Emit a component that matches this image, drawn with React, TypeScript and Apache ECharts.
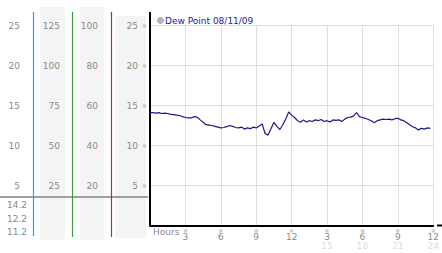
import React, { useEffect, useRef } from "react";
import * as echarts from "echarts";

const SERIES_NAME = "Dew Point 08/11/09";
const X_AXIS_NAME = "Hours";
const FONT = "DejaVu Sans";

// dew point readings, one every 15 minutes from 0h
const SAMPLE_STEP_HOURS = 0.25;
const dewPoint = [
  14.1, 14.1, 14.05, 14.1, 14.0, 14.05, 14.0, 13.9, 13.85, 13.8, 13.75, 13.6,
  13.5, 13.45, 13.45, 13.6, 13.55, 13.2, 12.9, 12.6, 12.55, 12.5, 12.4, 12.3,
  12.2, 12.25, 12.35, 12.5, 12.4, 12.25, 12.2, 12.3, 12.05, 12.2, 12.1, 12.3,
  12.2, 12.45, 12.7, 11.5, 11.3, 12.1, 12.9, 12.4, 12.0, 12.6, 13.3, 14.2,
  13.8, 13.5, 13.1, 12.9, 13.2, 12.95, 13.1, 13.0, 13.2, 13.1, 13.25, 13.0,
  13.1, 12.95, 13.2, 13.15, 13.2, 13.0, 13.3, 13.5, 13.55, 13.7, 14.1, 13.6,
  13.5, 13.4, 13.25, 13.1, 12.85, 13.1, 13.2, 13.3, 13.25, 13.3, 13.2, 13.35,
  13.4, 13.2, 13.1, 12.85, 12.6, 12.35, 12.2, 11.95, 12.15, 12.05, 12.2, 12.15,
];

// left side scales
const scaleCol1 = { max: 25, interval: 5 }; // 25 20 15 10 5
const scaleCol2 = { max: 125, interval: 25 }; // 125 100 75 50 25
const scaleCol3 = { max: 100, interval: 20 }; // 100 80 60 40 20
const mainScale = { max: 25, interval: 5 };

const xAxisScale = { min: 0, max: 24, interval: 3 };

const statValues = ["14.2", "12.2", "11.2"];

export default function App() {
  const ref = useRef<HTMLDivElement>(null);

  useEffect(() => {
    if (!ref.current) return;
    const chart = echarts.init(ref.current, undefined, { renderer: "svg" });

    const seriesData = dewPoint.map((v, i) => [i * SAMPLE_STEP_HOURS, v]);

    const sideAxis = (scale: { max: number; interval: number }, margin: number) => ({
      type: "value",
      position: "left",
      offset: 0,
      min: 0,
      max: scale.max,
      interval: scale.interval,
      axisLine: { show: false },
      axisTick: { show: false },
      splitLine: { show: false },
      axisLabel: {
        showMinLabel: false,
        margin,
        color: "#8a8a8a",
        fontFamily: FONT,
        fontSize: 9,
      },
    });

    const gray = "#f4f4f4";

    chart.setOption({
      animation: false,
      grid: { left: 150, top: 25.5, width: 288.5, height: 200, containLabel: false },
      xAxis: {
        type: "value",
        min: xAxisScale.min,
        max: xAxisScale.max,
        interval: xAxisScale.interval,
        axisLine: { show: true, lineStyle: { color: "#000", width: 2 } },
        axisTick: { show: false },
        splitLine: { show: true, lineStyle: { color: "#dddddd", width: 1 } },
        axisLabel: {
          showMinLabel: false,
          margin: 2,
          formatter: (v: number) =>
            v <= 12
              ? `{m|※}\n{n|${v}}`
              : `{m|※}\n{n|${v - 12}}\n{g|${v}}`,
          rich: {
            m: { fontSize: 6, lineHeight: 5, color: "#aaaaaa", fontFamily: FONT, align: "center" },
            n: { fontSize: 9, lineHeight: 9, color: "#8a8a8a", fontFamily: FONT, align: "center" },
            g: { fontSize: 9, lineHeight: 8, color: "#dcdcdc", fontFamily: FONT, align: "center" },
          },
        },
      },
      yAxis: [
        {
          type: "value",
          position: "left",
          offset: 0,
          min: 0,
          max: mainScale.max,
          interval: mainScale.interval,
          axisLine: { show: true, lineStyle: { color: "#000", width: 2 } },
          axisTick: { show: false },
          splitLine: { show: true, lineStyle: { color: "#dddddd", width: 1 } },
          axisLabel: {
            showMinLabel: false,
            margin: 3,
            formatter: (v: number) => `{a|${v}}{b|※}`,
            rich: {
              a: { fontSize: 9, color: "#8a8a8a", fontFamily: FONT },
              b: { fontSize: 6, color: "#aaaaaa", fontFamily: FONT, padding: [0, 0, 0, 4] },
            },
          },
        },
        sideAxis(scaleCol3, 52),
        sideAxis(scaleCol2, 90),
        sideAxis(scaleCol1, 130),
      ],
      series: [
        {
          name: SERIES_NAME,
          type: "line",
          xAxisIndex: 0,
          yAxisIndex: 0,
          data: seriesData,
          showSymbol: false,
          symbol: "none",
          lineStyle: { color: "#1a1a90", width: 1.2 },
          z: 5,
        },
      ],
      graphic: [
        { type: "rect", z: -10, shape: { x: 40, y: 7, width: 25, height: 233 }, style: { fill: gray } },
        { type: "rect", z: -10, shape: { x: 80, y: 7, width: 24, height: 233 }, style: { fill: gray } },
        { type: "rect", z: -10, shape: { x: 115, y: 16, width: 31, height: 222 }, style: { fill: gray } },
        { type: "line", z: -5, shape: { x1: 0, y1: 197, x2: 148, y2: 197 }, style: { stroke: "#a0a0a0", lineWidth: 2 } },
        { type: "line", z: 1, shape: { x1: 33.5, y1: 12, x2: 33.5, y2: 236 }, style: { stroke: "#28a4d4", lineWidth: 1.2 } },
        { type: "line", z: 1, shape: { x1: 72.5, y1: 12, x2: 72.5, y2: 237 }, style: { stroke: "#3c9c3c", lineWidth: 1.2 } },
        { type: "line", z: 1, shape: { x1: 111.5, y1: 12, x2: 111.5, y2: 237 }, style: { stroke: "#c02828", lineWidth: 1.2 } },
        { type: "line", z: 10, shape: { x1: 150, y1: 12, x2: 150, y2: 27 }, style: { stroke: "#000", lineWidth: 2 } },
        { type: "line", z: 10, shape: { x1: 437, y1: 225.5, x2: 442, y2: 225.5 }, style: { stroke: "#000", lineWidth: 2 } },
        ...statValues.map((t, i) => ({
          type: "text",
          z: 10,
          x: 27,
          y: [205, 218.5, 232][i],
          style: { text: t, fill: "#8a8a8a", font: `9px "${FONT}"`, textAlign: "right", textVerticalAlign: "middle" },
        })),
        {
          type: "text",
          z: 10,
          x: 153,
          y: 232,
          style: { text: X_AXIS_NAME, fill: "#8a8a8a", font: `9px "${FONT}"`, textAlign: "left", textVerticalAlign: "middle" },
        },
        {
          type: "circle",
          z: 10,
          shape: { cx: 160.5, cy: 20.5, r: 3 },
          style: { fill: "#b8b8b8", stroke: "#909090", lineWidth: 0.7 },
        },
        {
          type: "text",
          z: 10,
          x: 165,
          y: 20.5,
          style: { text: SERIES_NAME, fill: "#2020a0", font: `9px "${FONT}"`, textAlign: "left", textVerticalAlign: "middle" },
        },
      ],
    });

    return () => chart.dispose();
  }, []);

  return (
    <div
      ref={ref}
      style={{ position: "fixed", left: 0, top: 0, width: 442, height: 253, background: "#fff" }}
    />
  );
}
